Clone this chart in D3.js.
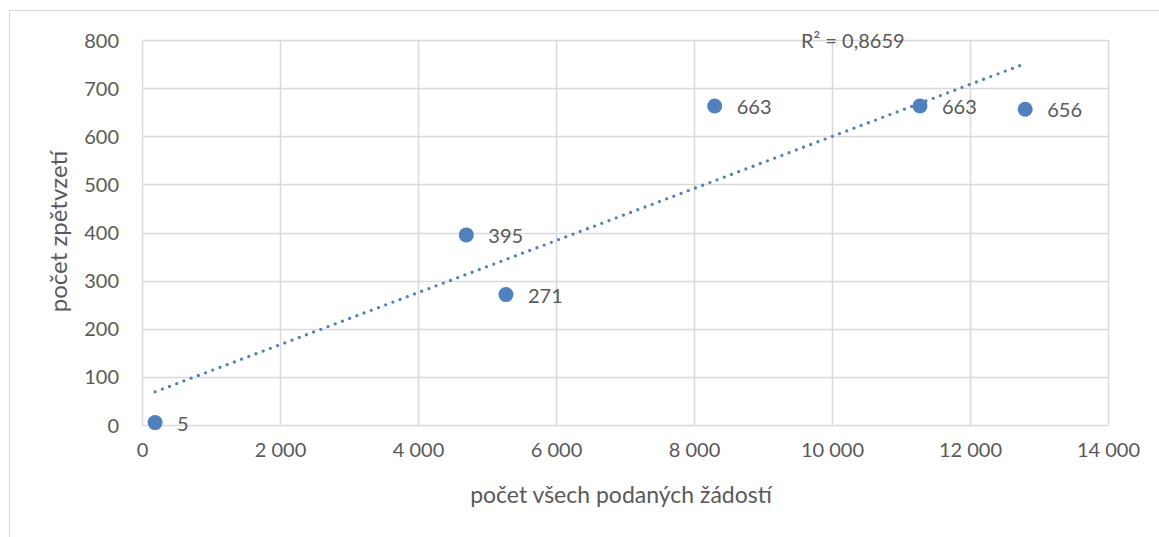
<!DOCTYPE html>
<html>
<head>
<meta charset="utf-8">
<script src="https://cdn.jsdelivr.net/npm/d3@7"></script>
<style>
  body { margin: 0; background: #fff; }
  text { font-family: Lato, "Open Sans", sans-serif; fill: #595959; }
</style>
</head>
<body>
<div id="chart"></div>
<script>
// data
const zadosti = [190, 4700, 5275, 8300, 11275, 12800];
const zpetvzeti = [5, 395, 271, 663, 663, 656];
const xTicks = [0, 2000, 4000, 6000, 8000, 10000, 12000, 14000];
const yTicks = [0, 100, 200, 300, 400, 500, 600, 700, 800];
const r2Label = "R² = 0,8659";
const xTitle = "počet všech podaných žádostí";
const yTitle = "počet zpětvzetí";

const width = 1159;
const height = 537;
const margin = { top: 40, right: 51, bottom: 112, left: 142 };

const svg = d3.select("#chart")
  .append("svg")
  .attr("width", width)
  .attr("height", height);

// outer chart frame
svg.append("rect")
  .attr("x", 9.5).attr("y", 10.5)
  .attr("width", width).attr("height", height)
  .attr("fill", "none")
  .attr("stroke", "#d9d9d9");

const x = d3.scaleLinear().domain([0, 14000]).range([margin.left, width - margin.right]);
const y = d3.scaleLinear().domain([0, 800]).range([height - margin.bottom, margin.top]);

const fmt = (d) => d3.format(",")(d).replace(/,/g, " ");

// grid
svg.append("g")
  .selectAll("line")
  .data(yTicks)
  .join("line")
  .attr("x1", x(0)).attr("x2", x(14000))
  .attr("y1", (d) => Math.round(y(d)) + 0.5)
  .attr("y2", (d) => Math.round(y(d)) + 0.5)
  .attr("stroke", "#d9d9d9")
  .attr("stroke-width", 1.5);

svg.append("g")
  .selectAll("line")
  .data(xTicks)
  .join("line")
  .attr("x1", (d) => Math.round(x(d)) + 0.5)
  .attr("x2", (d) => Math.round(x(d)) + 0.5)
  .attr("y1", y(0)).attr("y2", y(800))
  .attr("stroke", "#d9d9d9")
  .attr("stroke-width", 1.5);

// axes (labels only)
const xAxis = svg.append("g")
  .attr("transform", "translate(0," + y(0) + ")")
  .call(d3.axisBottom(x).tickValues(xTicks).tickFormat(fmt).tickSize(0).tickPadding(20));
xAxis.select(".domain").remove();
xAxis.selectAll("text").attr("font-size", 20).attr("fill", "#595959").attr("dy", "0.6em");

const yAxis = svg.append("g")
  .attr("transform", "translate(" + (x(0)) + ",0)")
  .call(d3.axisLeft(y).tickValues(yTicks).tickSize(0).tickPadding(23));
yAxis.select(".domain").remove();
yAxis.selectAll("text").attr("font-size", 20).attr("fill", "#595959").attr("dy", "0.35em");

// axis titles
svg.append("text")
  .attr("x", (x(0) + x(14000)) / 2 - 4)
  .attr("y", 497)
  .attr("text-anchor", "middle")
  .attr("dominant-baseline", "middle")
  .attr("font-size", 23)
  .text(xTitle);

svg.append("text")
  .attr("transform", "translate(61," + (y(400) - 1) + ") rotate(-90)")
  .attr("text-anchor", "middle")
  .attr("dominant-baseline", "middle")
  .attr("font-size", 24)
  .text(yTitle);

// linear trend line (least squares)
const xm = d3.mean(zadosti), ym = d3.mean(zpetvzeti);
let sxy = 0, sxx = 0;
zadosti.forEach((v, i) => {
  sxy += (v - xm) * (zpetvzeti[i] - ym);
  sxx += (v - xm) * (v - xm);
});
const slope = sxy / sxx;
const icpt = ym - slope * xm;
const xs = d3.extent(zadosti);

svg.append("line")
  .attr("x1", x(xs[0])).attr("y1", y(icpt + slope * xs[0]))
  .attr("x2", x(xs[1])).attr("y2", y(icpt + slope * xs[1]))
  .attr("stroke", "#4f81bd")
  .attr("stroke-width", 3.3)
  .attr("stroke-linecap", "round")
  .attr("stroke-dasharray", "0 7.7");

// points
svg.append("g")
  .selectAll("circle")
  .data(zadosti)
  .join("circle")
  .attr("cx", (d) => x(d))
  .attr("cy", (d, i) => y(zpetvzeti[i]))
  .attr("r", 7.5)
  .attr("fill", "#4f81bd");

// data labels
svg.append("g")
  .selectAll("text")
  .data(zadosti)
  .join("text")
  .attr("x", (d) => x(d) + 22)
  .attr("y", (d, i) => y(zpetvzeti[i]))
  .attr("dominant-baseline", "central")
  .attr("font-size", 20)
  .attr("fill", "#404040")
  .text((d, i) => zpetvzeti[i]);

// R² label
svg.append("text")
  .attr("x", 801)
  .attr("y", 40)
  .attr("dominant-baseline", "central")
  .attr("font-size", 20)
  .text(r2Label);
</script>
</body>
</html>
